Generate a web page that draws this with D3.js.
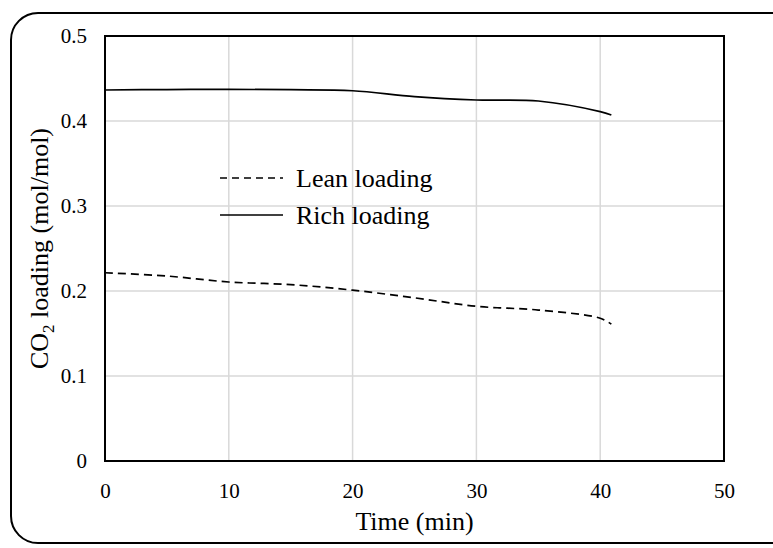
<!DOCTYPE html>
<html><head>
<meta charset="utf-8">
<script src="https://d3js.org/d3.v7.min.js"></script>
<style>
  body { margin: 0; background: #fff; }
  svg text { font-family: "Liberation Serif", "Times New Roman", "DejaVu Serif", serif; fill: #000; }
</style>
</head>
<body>
<svg id="chart" width="773" height="548"></svg>
<script>
// data
let timeLean = [0, 5, 10, 15, 20, 25, 30, 35, 40, 40.9];
let leanLoading = [0.2215, 0.2176, 0.2106, 0.2075, 0.201, 0.192, 0.182, 0.1776, 0.168, 0.161];
let timeRich = [0, 5, 10, 15, 20, 25, 30, 35, 40, 40.9];
let richLoading = [0.4365, 0.437, 0.4373, 0.4368, 0.4356, 0.4286, 0.4247, 0.4235, 0.411, 0.407];
let xTicks = [0, 10, 20, 30, 40, 50];
let yTicks = [0, 0.1, 0.2, 0.3, 0.4, 0.5];
let seriesNames = ["Lean loading", "Rich loading"];

let svg = d3.select("svg#chart");
let margin = {top: 36, left: 105, right: 49, bottom: 87};
let width = 773, height = 548;
let chartWidth = width - margin.left - margin.right;
let chartHeight = height - margin.top - margin.bottom;

// outer rounded frame
svg.append("rect")
    .attr("x", 11).attr("y", 13)
    .attr("width", 790).attr("height", 530)
    .attr("rx", 27).attr("ry", 27)
    .attr("fill", "none").attr("stroke", "#000").attr("stroke-width", 2);

let xScale = d3.scaleLinear().domain([0, 50]).range([0, chartWidth]);
let yScale = d3.scaleLinear().domain([0, 0.5]).range([chartHeight, 0]);

let chart = svg.append("g")
    .attr("transform", "translate(" + margin.left + "," + margin.top + ")");

// gridlines
chart.append("g")
    .selectAll("line.xg").data(xTicks).join("line")
    .attr("x1", d => xScale(d)).attr("x2", d => xScale(d))
    .attr("y1", 0).attr("y2", chartHeight)
    .attr("stroke", "#d9d9d9").attr("stroke-width", 1.5);
chart.append("g")
    .selectAll("line.yg").data(yTicks).join("line")
    .attr("x1", 0).attr("x2", chartWidth)
    .attr("y1", d => yScale(d)).attr("y2", d => yScale(d))
    .attr("stroke", "#d9d9d9").attr("stroke-width", 1.5);

// plot border
chart.append("rect")
    .attr("x", 0).attr("y", 0)
    .attr("width", chartWidth).attr("height", chartHeight)
    .attr("fill", "none").attr("stroke", "#000").attr("stroke-width", 2);

// axes (labels only)
let xAxis = chart.append("g")
    .attr("transform", "translate(0," + chartHeight + ")")
    .call(d3.axisBottom(xScale).tickValues(xTicks).tickSize(0).tickPadding(22).tickFormat(d3.format("d")));
let yAxis = chart.append("g")
    .call(d3.axisLeft(yScale).tickValues(yTicks).tickSize(0).tickPadding(18)
        .tickFormat(d => d === 0 ? "0" : d3.format(".1f")(d)));
[xAxis, yAxis].forEach(a => {
    a.select(".domain").remove();
    a.attr("font-family", null);
    a.selectAll("text").attr("font-size", 21);
});

// lines
let lineGen = d3.line()
    .x(d => xScale(d[0]))
    .y(d => yScale(d[1]))
    .curve(d3.curveCatmullRom.alpha(0.5));

chart.append("path")
    .datum(timeLean.map((t, i) => [t, leanLoading[i]]))
    .attr("d", lineGen)
    .attr("fill", "none").attr("stroke", "#000")
    .attr("stroke-width", 1.7).attr("stroke-dasharray", "8,5");

chart.append("path")
    .datum(timeRich.map((t, i) => [t, richLoading[i]]))
    .attr("d", lineGen)
    .attr("fill", "none").attr("stroke", "#000")
    .attr("stroke-width", 1.7);

// legend
let legend = svg.append("g");
seriesNames.forEach((name, i) => {
    let y = 178 + i * 37;
    legend.append("line")
        .attr("x1", 220).attr("x2", 283)
        .attr("y1", y).attr("y2", y)
        .attr("stroke", "#000").attr("stroke-width", 1.7)
        .attr("stroke-dasharray", i === 0 ? "7,5" : null);
    legend.append("text")
        .attr("x", 296).attr("y", y + 8.5)
        .attr("font-size", 26)
        .text(name);
});

// axis titles
svg.append("text")
    .attr("x", margin.left + chartWidth / 2)
    .attr("y", 530)
    .attr("text-anchor", "middle")
    .attr("font-size", 26)
    .text("Time (min)");

let yTitle = svg.append("text")
    .attr("transform", "translate(48," + (margin.top + chartHeight / 2) + ") rotate(-90)")
    .attr("text-anchor", "middle")
    .attr("font-size", 26);
yTitle.append("tspan").text("CO");
yTitle.append("tspan").attr("font-size", 17).attr("dy", 6).text("2");
yTitle.append("tspan").attr("dy", -6).text(" loading (mol/mol)");
</script>
</body>
</html>
